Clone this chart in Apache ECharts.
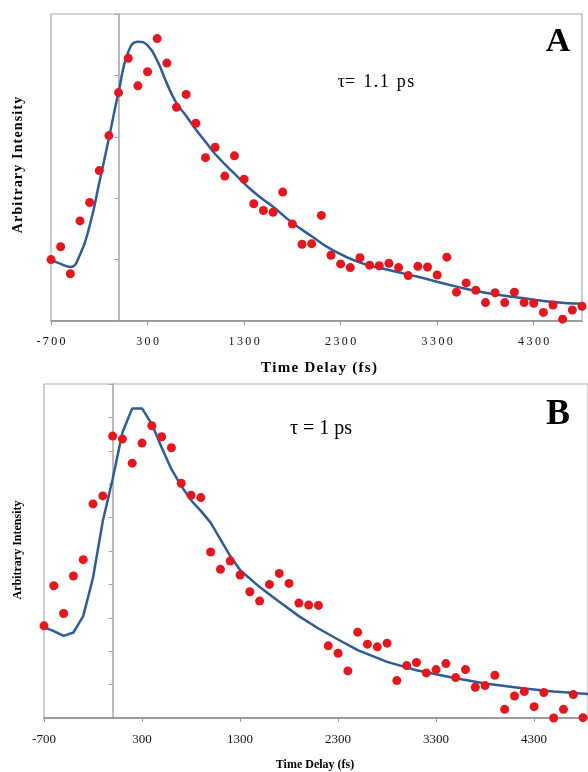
<!DOCTYPE html>
<html>
<head>
<meta charset="utf-8">
<script src="https://cdn.jsdelivr.net/npm/echarts@6/dist/echarts.min.js"></script>
<style>
  html, body { margin: 0; padding: 0; background: #fff; }
  #chart { width: 588px; height: 772px; }
</style>
</head>
<body>
<div id="chart"></div>
<script>
// time delays (fs), same sampling for both panels
var delays = [-700, -600, -500, -400, -300, -200, -100, 0, 100, 200, 300, 400, 500, 600,
  700, 800, 900, 1000, 1100, 1200, 1300, 1400, 1500, 1600, 1700, 1800, 1900, 2000,
  2100, 2200, 2300, 2400, 2500, 2600, 2700, 2800, 2900, 3000, 3100, 3200, 3300, 3400,
  3500, 3600, 3700, 3800, 3900, 4000, 4100, 4200, 4300, 4400, 4500, 4600, 4700, 4800];

// panel A measured intensity
var intensityA = [1.00, 1.21, 0.77, 1.63, 1.93, 2.45, 3.02, 3.72, 4.28, 3.83, 4.06, 4.60, 4.20, 3.48,
  3.69, 3.22, 2.66, 2.83, 2.36, 2.69, 2.31, 1.91, 1.80, 1.77, 2.10, 1.58, 1.25, 1.26,
  1.72, 1.07, 0.93, 0.87, 1.03, 0.91, 0.90, 0.94, 0.87, 0.74, 0.89, 0.88, 0.75, 1.04,
  0.47, 0.62, 0.50, 0.30, 0.46, 0.30, 0.47, 0.30, 0.29, 0.14, 0.26, 0.03, 0.18, 0.24];

// panel B measured intensity
var intensityB = [2.76, 3.96, 3.13, 4.25, 4.74, 6.41, 6.65, 8.44, 8.35, 7.63, 8.23, 8.75, 8.42, 8.09,
  7.03, 6.67, 6.60, 4.97, 4.45, 4.70, 4.28, 3.78, 3.50, 4.00, 4.33, 4.03, 3.44, 3.38,
  3.37, 2.16, 1.94, 1.41, 2.57, 2.21, 2.13, 2.24, 1.12, 1.57, 1.66, 1.35, 1.45, 1.63,
  1.21, 1.45, 0.92, 0.97, 1.28, 0.26, 0.66, 0.79, 0.34, 0.76, 0.00, 0.26, 0.70, 0.01];

// fitted curves [delay, intensity]
var fitA = [[-700, 1.00], [-600, 0.93], [-500, 0.88], [-400, 1.08], [-300, 1.55], [-200, 2.25],
  [-100, 2.98], [0, 3.73], [100, 4.38], [200, 4.55], [300, 4.49], [400, 4.24], [500, 3.87],
  [600, 3.55], [700, 3.34], [800, 3.12], [900, 2.92], [1000, 2.72], [1200, 2.40], [1400, 2.10],
  [1600, 1.86], [1800, 1.60], [2000, 1.38], [2200, 1.17], [2500, 0.95], [2800, 0.83],
  [3100, 0.72], [3500, 0.56], [3800, 0.46], [4200, 0.37], [4500, 0.31], [4800, 0.28]];

var fitB = [[-700, 2.72], [-600, 2.60], [-500, 2.46], [-400, 2.56], [-300, 3.05], [-200, 4.20],
  [-100, 5.90], [0, 7.15], [100, 8.55], [200, 9.27], [300, 9.27], [400, 8.80], [500, 8.10],
  [600, 7.45], [700, 6.95], [800, 6.52], [900, 6.20], [1000, 5.85], [1100, 5.35], [1200, 4.85],
  [1300, 4.43], [1500, 3.92], [1700, 3.48], [1900, 3.05], [2100, 2.68], [2300, 2.35],
  [2500, 2.03], [2800, 1.68], [3100, 1.43], [3500, 1.19], [3800, 1.03], [4200, 0.88],
  [4500, 0.79], [4850, 0.72]];

var xTicks = [-700, 300, 1300, 2300, 3300, 4300];

var serif = '"Liberation Serif", "DejaVu Serif", serif';
var dotColor = '#e4161e';
var fitColor = '#2d5c96';
var zeroLine = '#a89fae';

function spaced(s, sp) {
  return String(s).split('').join(sp);
}

function pairs(ys) {
  return delays.map(function (d, i) { return [d, ys[i]]; });
}

var chart = echarts.init(document.getElementById('chart'));

function xAxisFor(idx, max, fontSize, sp) {
  return {
    gridIndex: idx,
    type: 'value',
    min: -700,
    max: max,
    axisLine: { show: true, onZero: false, lineStyle: { color: '#8a8a8a', width: 1.5 } },
    axisTick: { show: true, customValues: xTicks, length: 4, lineStyle: { color: '#9a9a9a' } },
    axisLabel: {
      customValues: xTicks,
      margin: 15,
      color: '#111',
      fontFamily: serif,
      fontSize: fontSize,
      formatter: function (v) { return spaced(v, sp); }
    },
    splitLine: { show: false }
  };
}

function yAxisFor(idx, max) {
  return {
    gridIndex: idx,
    type: 'value',
    min: 0,
    max: max,
    interval: 1,
    axisLine: { show: true, onZero: true, lineStyle: { color: zeroLine, width: 1.5 } },
    axisTick: { show: true, length: 4, lineStyle: { color: zeroLine } },
    axisLabel: { show: false },
    splitLine: { show: false }
  };
}

chart.setOption({
  animation: false,
  grid: [
    { left: 51, top: 14, right: 6, bottom: 451, show: true, borderColor: '#a9a9a9', borderWidth: 1.2 },
    { left: 44, top: 384, right: -2, bottom: 54, show: true, borderColor: '#b0b0b0', borderWidth: 1.2 }
  ],
  xAxis: [xAxisFor(0, 4800, 12, '\u2009'), xAxisFor(1, 4850, 13, '')],
  yAxis: [yAxisFor(0, 5), yAxisFor(1, 10)],
  series: [
    {
      type: 'line', xAxisIndex: 0, yAxisIndex: 0, data: fitA, smooth: true,
      showSymbol: false, lineStyle: { color: fitColor, width: 2.5 }, z: 2
    },
    {
      type: 'scatter', xAxisIndex: 0, yAxisIndex: 0, data: pairs(intensityA), clip: false,
      symbolSize: 9, itemStyle: { color: dotColor, opacity: 1 }, z: 3
    },
    {
      type: 'line', xAxisIndex: 1, yAxisIndex: 1, data: fitB, smooth: false,
      showSymbol: false, lineStyle: { color: fitColor, width: 2.5 }, z: 2
    },
    {
      type: 'scatter', xAxisIndex: 1, yAxisIndex: 1, data: pairs(intensityB), clip: false,
      symbolSize: 9, itemStyle: { color: dotColor, opacity: 1 }, z: 3
    }
  ],
  graphic: [
    { type: 'text', x: 558, y: 42, style: { text: 'A', font: 'bold 34px ' + serif, fill: '#000', align: 'center', verticalAlign: 'middle' } },
    { type: 'text', x: 376, y: 82, style: { text: 'τ=\u2009 1\u200a.\u200a1\u2009 p\u200as', font: '18px ' + serif, fill: '#000', align: 'center', verticalAlign: 'middle' } },
    { type: 'text', x: 319, y: 368, style: { text: spaced('Time Delay (fs)', '\u200a'), font: 'bold 15px ' + serif, fill: '#000', align: 'center', verticalAlign: 'middle' } },
    { type: 'text', x: 18, y: 165, rotation: Math.PI / 2, style: { text: spaced('Arbitrary Intensity', '\u200a'), font: 'bold 14px ' + serif, fill: '#000', align: 'center', verticalAlign: 'middle' } },
    { type: 'text', x: 558, y: 415, style: { text: 'B', font: 'bold 36px ' + serif, fill: '#000', align: 'center', verticalAlign: 'middle' } },
    { type: 'text', x: 321, y: 429, style: { text: 'τ = 1 ps', font: '20px ' + serif, fill: '#000', align: 'center', verticalAlign: 'middle' } },
    { type: 'text', x: 315, y: 765, style: { text: 'Time Delay (fs)', font: 'bold 12px ' + serif, fill: '#000', align: 'center', verticalAlign: 'middle' } },
    { type: 'text', x: 18, y: 550, rotation: Math.PI / 2, style: { text: 'Arbitrary Intensity', font: 'bold 12px ' + serif, fill: '#000', align: 'center', verticalAlign: 'middle' } }
  ]
});
</script>
</body>
</html>
